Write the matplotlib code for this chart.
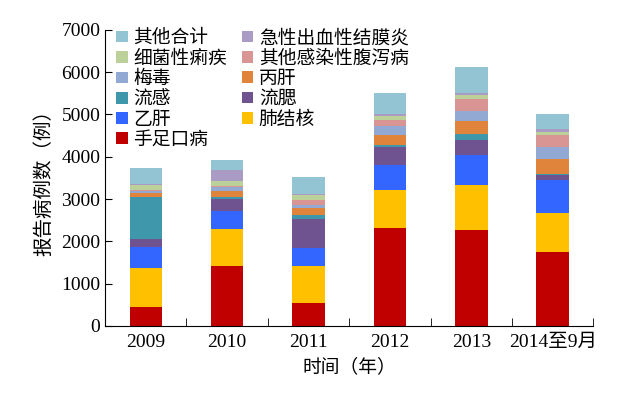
import matplotlib
matplotlib.use('Agg')
import matplotlib.pyplot as plt
import numpy as np

plt.rcParams['font.family'] = ['Liberation Serif', 'Noto Sans CJK SC']

years = ['2009', '2010', '2011', '2012', '2013', '2014至9月']

# stacking order, bottom to top
diseases = ['手足口病', '肺结核', '乙肝', '流腮', '流感', '丙肝', '梅毒',
            '其他感染性腹泻病', '细菌性痢疾', '急性出血性结膜炎', '其他合计']
shouzukou = [450, 1410, 535, 2320, 2260, 1735]
feijiehe = [930, 875, 875, 905, 1075, 930]
yigan = [490, 435, 440, 575, 700, 795]
liusai = [190, 290, 670, 440, 355, 110]
liugan = [980, 30, 110, 40, 150, 30]
binggan = [95, 160, 150, 230, 315, 350]
meidu = [50, 75, 70, 225, 235, 290]
fuxie = [40, 40, 125, 125, 285, 265]
liji = [100, 110, 115, 110, 95, 90]
jiemoyan = [30, 260, 40, 40, 45, 55]
qita = [390, 240, 380, 490, 600, 360]
series = [shouzukou, feijiehe, yigan, liusai, liugan, binggan, meidu,
          fuxie, liji, jiemoyan, qita]
colors = ['#C00000', '#FFC000', '#3366FF', '#6F5290', '#3F97AB', '#E0843C',
          '#92A9D4', '#D99594', '#BCD09A', '#A99BC4', '#93C4D4']

fig = plt.figure(figsize=(6.22, 3.94), dpi=100)
ax = fig.add_axes([0.169, 0.173, 0.785, 0.751])

x = np.arange(len(years))
bottom = np.zeros(len(years))
handles = []
for name, vals, c in zip(diseases, series, colors):
    h = ax.bar(x, vals, 0.4, bottom=bottom, color=c, label=name)
    handles.append(h)
    bottom += np.array(vals)

ax.set_xlim(-0.5, len(years) - 0.5)
ax.set_ylim(0, 7000)
ax.set_yticks(range(0, 7001, 1000))
ax.set_xticks(x)
ax.set_xticklabels(years)
ax.set_xticks(np.arange(-0.5, len(years)), minor=True)
ax.tick_params(axis='x', which='major', length=0, labelsize=14, pad=6)
ax.tick_params(axis='x', which='minor', direction='in', length=6)
ax.tick_params(axis='y', direction='in', length=5, labelsize=14)
for s in ['top', 'right']:
    ax.spines[s].set_visible(False)

ax.set_ylabel('报告病例数（例）', fontsize=14, labelpad=6)
ax.set_xlabel('时间（年）', fontsize=13.5, labelpad=5)

# legend: rows of reversed order, filled column-wise
rev = handles[::-1]
order = rev[0::2] + rev[1::2]
leg = ax.legend(order, [h.get_label() for h in order], ncol=2,
                loc='upper left', bbox_to_anchor=(0.0, 1.04), frameon=False,
                fontsize=13.5, handlelength=0.6, handleheight=0.6,
                handletextpad=0.3, labelspacing=0.17, columnspacing=0.8,
                borderaxespad=0.2)

fig.savefig('out.png', dpi=100)
